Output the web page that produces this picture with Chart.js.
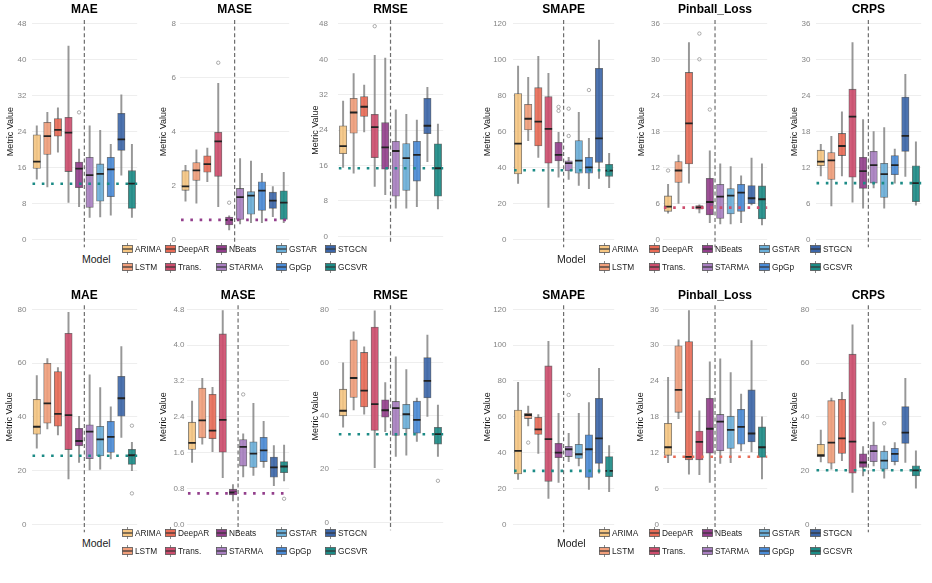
<!DOCTYPE html>
<html>
<head>
<meta charset="utf-8">
<script src="https://cdn.jsdelivr.net/npm/chart.js@4.4.0/dist/chart.umd.min.js"></script>
<style>
  html, body { margin: 0; padding: 0; background: #fff; }
  #page { position: relative; width: 932px; height: 583px; overflow: hidden;
          font-family: "Liberation Sans", Arial, sans-serif; }
  #page canvas { position: absolute; }
  .lg-title { position: absolute; font-size: 10.5px; color: #222; line-height: 12px; }
  .lg-item { position: absolute; font-size: 8.3px; color: #222; line-height: 10px; white-space: nowrap; }
  .lg-item svg { position: absolute; left: -13px; top: -1px; }
</style>
</head>
<body>
<div id="page"></div>
<script>
// Models and colours
const MODELS = ['ARIMA', 'LSTM', 'DeepAR', 'Trans.', 'NBeats', 'STARMA', 'GSTAR', 'GpGp', 'STGCN', 'GCSVR'];
const COLORS = ['#F6C683', '#F19F7B', '#E96C57', '#CD4D6D', '#933F8C', '#A97FC1', '#6BAFD9', '#4A8BD6', '#3C66A9', '#1C8B86'];
const METRICS = ['MAE', 'MASE', 'RMSE', 'SMAPE', 'Pinball_Loss', 'CRPS'];
const SPLIT_AFTER = 4; // dashed line between NBeats and STARMA

// each row: [whisker low, Q1, median, Q3, whisker high] -- top figure
const MAE_1 = [[13.4, 15.8, 17.3, 23.3, 25.3], [11.7, 18.9, 23.0, 26.1, 28.3], [19.4, 23.0, 24.4, 26.9, 29.3],
  [8.2, 15.1, 23.8, 27.2, 43.1], [7.3, 11.5, 15.75, 17.2, 20.1], [4.9, 7.1, 14.3, 18.3, 25.3],
  [5.0, 8.5, 14.6, 16.8, 24.3], [5.4, 9.5, 15.6, 18.3, 21.2], [14.3, 19.8, 22.3, 28.1, 32.2], [4.9, 6.9, 12.4, 15.3, 21.2]];
const MASE_1 = [[1.42, 1.82, 1.97, 2.55, 2.75], [1.34, 2.19, 2.56, 2.85, 3.32], [2.14, 2.49, 2.79, 3.10, 3.39],
  [1.21, 2.34, 3.64, 3.98, 5.80], [0.35, 0.53, 0.72, 0.83, 0.87], [0.57, 0.74, 1.57, 1.89, 3.0],
  [0.62, 0.93, 1.62, 1.77, 2.91], [0.62, 1.07, 1.81, 2.14, 2.45], [0.84, 1.15, 1.44, 1.75, 1.96], [0.62, 0.74, 1.36, 1.80, 2.49]];
const RMSE_1 = [[15.6, 18.7, 20.4, 25.0, 30.6], [14.3, 23.3, 28.0, 31.2, 36.8], [23.6, 27.1, 29.3, 31.6, 34.2],
  [11.3, 17.8, 24.7, 27.6, 40.9], [9.4, 15.2, 20.1, 25.7, 40.3], [6.4, 9.1, 19.3, 21.5, 28.6],
  [6.4, 10.4, 17.7, 21.0, 27.6], [6.7, 12.5, 18.4, 21.5, 26.3], [16.9, 23.2, 25.0, 31.2, 33.7], [6.2, 9.1, 15.4, 20.9, 25.4]];
const SMAPE_1 = [[31.2, 36.4, 53.3, 81.2, 96.6], [55.0, 60.9, 67.2, 75.2, 90.3], [45.7, 52.0, 65.6, 84.5, 102],
  [17.8, 42.4, 61.5, 79.5, 92.5], [34.6, 43.7, 47.0, 54.1, 59.6], [33.4, 38.1, 42.5, 43.8, 45.7],
  [30.1, 36.8, 43.8, 55.0, 70.8], [28.2, 36.8, 40.1, 45.7, 56.3], [34.0, 42.9, 56.3, 95.3, 111], [28.8, 35.1, 38.3, 41.8, 47.9]];
const PINBALL_1 = [[4.35, 4.68, 5.46, 7.25, 9.2], [6.0, 9.5, 11.5, 13.0, 14.1], [9.4, 12.6, 19.4, 27.9, 32.9],
  [4.4, 5.02, 5.35, 5.63, 5.75], [2.79, 4.07, 6.24, 10.2, 14.8], [2.56, 3.5, 7.13, 9.2, 12.6],
  [2.56, 4.24, 7.3, 8.47, 12.15], [2.79, 4.68, 7.8, 9.2, 10.6], [5.74, 5.96, 6.86, 9.0, 13.6], [2.4, 3.4, 6.7, 8.92, 12.6]];
const CRPS_1 = [[10.6, 12.3, 13.0, 14.9, 15.9], [5.6, 10.0, 13.2, 14.5, 17.2], [10.6, 14.0, 15.6, 17.7, 21.3],
  [6.2, 10.4, 20.5, 25.1, 32.9], [5.2, 8.5, 11.4, 13.7, 20.0], [8.6, 9.4, 12.4, 14.7, 18.0],
  [5.2, 7.0, 10.9, 12.7, 18.7], [9.4, 10.8, 12.4, 14.0, 15.1], [10.5, 14.7, 17.3, 23.8, 27.6], [5.7, 6.3, 9.4, 12.3, 16.3]];

// bottom figure
const MAE_2 = [[28.3, 33.5, 36.3, 46.5, 55.3], [35.5, 37.6, 45.0, 59.9, 61.7], [33.3, 36.5, 41.1, 56.8, 58.3],
  [16.9, 27.8, 40.6, 71.1, 78.9], [23.0, 29.2, 31.0, 35.7, 40.2], [20.2, 24.4, 34.5, 37.0, 55.6],
  [20.5, 25.4, 31.6, 36.5, 50.9], [24.3, 26.7, 32.5, 38.3, 43.7], [32.3, 40.2, 46.9, 55.1, 66.1], [20.0, 22.3, 25.7, 27.9, 30.5]];
const MASE_2 = [[1.38, 1.67, 1.82, 2.28, 2.75], [1.79, 1.93, 2.32, 3.04, 3.26], [1.62, 1.91, 2.09, 2.90, 3.06],
  [1.04, 1.61, 2.33, 4.25, 4.77], [0.52, 0.655, 0.71, 0.78, 0.885], [1.06, 1.30, 1.73, 1.89, 2.02],
  [1.09, 1.27, 1.58, 1.84, 2.70], [1.27, 1.40, 1.65, 1.94, 2.30], [0.86, 1.05, 1.27, 1.50, 1.76], [0.97, 1.15, 1.29, 1.40, 1.77]];
const RMSE_2 = [[35.7, 40.0, 41.9, 50.0, 59.9], [42.2, 46.9, 54.2, 68.5, 71.5], [40.6, 43.3, 49.5, 63.8, 65.9],
  [20.5, 34.5, 44.4, 73.3, 79.4], [34.1, 39.5, 42.1, 46.0, 52.5], [24.8, 32.6, 42.9, 45.4, 62.2],
  [25.2, 35.1, 40.6, 44.3, 57.4], [30.4, 33.5, 38.5, 45.5, 46.7], [39.8, 46.7, 53.1, 61.9, 70.3], [24.8, 29.4, 33.1, 35.7, 44.0]];
const SMAPE_2 = [[25.1, 28.1, 41.0, 63.8, 79.3], [54.9, 59.0, 61.0, 62.0, 66.0], [39.6, 50.2, 53.0, 59.7, 61.2],
  [14.5, 24.0, 47.5, 88.4, 102.1], [23.4, 37.2, 40.0, 45.2, 62.0], [35.0, 37.8, 41.9, 43.5, 50.8],
  [32.6, 36.8, 39.1, 44.7, 62.0], [19.5, 26.2, 41.9, 49.9, 67.9], [28.5, 34.0, 48.0, 70.3, 87.1], [18.2, 26.6, 29.8, 37.8, 43.9]];
const PINBALL_2 = [[10.3, 11.55, 12.9, 16.9, 24.6], [17.7, 18.75, 22.5, 29.9, 30.9], [8.4, 10.8, 11.3, 30.6, 35.8],
  [8.3, 10.8, 13.8, 15.6, 19.0], [7.0, 11.9, 16.0, 21.1, 27.2], [10.2, 12.3, 17.2, 18.4, 27.7],
  [10.3, 12.7, 15.8, 18.1, 25.4], [12.3, 13.4, 16.3, 19.25, 21.8], [12.1, 13.8, 15.2, 22.5, 30.75], [7.6, 11.2, 12.9, 16.3, 18.0]];
const CRPS_2 = [[23.2, 25.2, 25.7, 29.8, 35.1], [20.5, 22.7, 30.4, 46.0, 47.0], [23.7, 26.4, 32.0, 46.5, 49.1],
  [11.9, 19.0, 30.8, 63.3, 74.2], [18.0, 21.2, 23.0, 26.2, 28.9], [21.7, 23.3, 27.2, 29.5, 38.0],
  [17.2, 20.5, 23.7, 27.2, 29.2], [22.1, 23.3, 26.2, 28.3, 30.4], [23.0, 30.1, 34.1, 43.8, 54.3], [13.4, 18.0, 20.1, 21.8, 27.3]];

// outliers: [model index, value]
const MAE_1_OUT = [[4, 28.3]];
const MASE_1_OUT = [[3, 6.56], [4, 1.36]];
const RMSE_1_OUT = [[3, 47.5]];
const SMAPE_1_OUT = [[4, 73.8], [4, 71.6], [5, 72.8], [5, 57.6], [7, 83.2]];
const PINBALL_1_OUT = [[0, 11.5], [3, 34.4], [3, 30.1], [4, 21.7]];
const CRPS_1_OUT = [];
const MAE_2_OUT = [[9, 36.7], [9, 11.5]];
const MASE_2_OUT = [[5, 2.90], [9, 0.57]];
const RMSE_2_OUT = [[9, 15.6]];
const SMAPE_2_OUT = [[1, 45.6], [5, 72.2]];
const PINBALL_2_OUT = [];
const CRPS_2_OUT = [[6, 37.6]];

// dotted reference line (best model median) per panel
const REF_1 = [12.4, 0.72, 15.4, 38.5, 5.3, 9.4];
const REF_MODEL_1 = [9, 4, 9, 9, 3, 9];
const REF_2 = [25.5, 0.69, 33.1, 29.8, 11.3, 20.1];
const REF_MODEL_2 = [9, 4, 9, 9, 2, 9];

// y axis ticks
const Y_MAX_1 = [48, 8, 48, 120, 36, 36];
const Y_STEP_1 = [8, 2, 8, 20, 6, 6];
const Y_MAX_2 = [80, 4.8, 80, 120, 36, 80];
const Y_STEP_2 = [20, 0.8, 20, 20, 6, 20];

// layout (pixels)
const PLOT_TOP = [24, 309.3];
const PLOT_BOTTOM = [239.3, 524.3];
const FIRST_X = [[37, 185.7, 343.3, 518.3, 668.3, 821], [37, 192.3, 343.3, 518.3, 668.3, 821]];
const STEP_X = [[11.0, 11.33, 10.93, 10.56, 10.89, 10.97], [11.0, 10.7, 10.93, 10.56, 10.89, 10.97]];
const LABEL_RIGHT = [[26.5, 176, 328, 506.5, 660, 810.5], [26.5, 184.5, 329, 506.5, 659, 809.5]];
const AXIS_TITLE_X = [[10.5, 163.7, 316, 488.3, 641.7, 794.5], [10.3, 164.2, 316, 488.3, 640.7, 794.5]];

const FONT = '"Liberation Sans", Arial, sans-serif';
const page = document.getElementById('page');

const extrasPlugin = {
    id: 'panelExtras',
    afterDatasetsDraw(chart, args, opts) {
        const { ctx, chartArea } = chart;
        const xs = chart.scales.x, ys = chart.scales.y;
        ctx.save();
        // dashed separator between model groups
        const xSplit = (xs.getPixelForValue(SPLIT_AFTER) + xs.getPixelForValue(SPLIT_AFTER + 1)) / 2;
        ctx.strokeStyle = 'rgba(85,85,85,0.85)';
        ctx.lineWidth = 1.2;
        ctx.setLineDash([4, 2.6]);
        ctx.beginPath();
        ctx.moveTo(xSplit, chartArea.top - 4);
        ctx.lineTo(xSplit, chartArea.bottom + 8);
        ctx.stroke();
        // dotted reference line
        const yRef = ys.getPixelForValue(opts.ref);
        ctx.strokeStyle = opts.color;
        ctx.lineWidth = 2.6;
        ctx.setLineDash([2.6, 6.7]);
        ctx.beginPath();
        ctx.moveTo(chartArea.left + 1, yRef);
        ctx.lineTo(chartArea.right, yRef);
        ctx.stroke();
        ctx.restore();
    }
};

function buildPanel(row, col, rows, outs, ref, refModel, yMax, yStep) {
    const plotTop = PLOT_TOP[row], plotBottom = PLOT_BOTTOM[row];
    const step = STEP_X[row][col], first = FIRST_X[row][col];
    const plotLeft = first - step / 2;
    const plotRight = first + step * (MODELS.length - 0.5);
    const canvasLeft = Math.floor(AXIS_TITLE_X[row][col] - 6.4);
    const canvasTop = Math.floor(plotTop - 24);
    const w = Math.ceil(plotRight - canvasLeft) + 1;
    const h = Math.ceil(plotBottom + 11 - canvasTop);
    const axisW = plotLeft - canvasLeft;
    const padTop = (plotTop - 14) - canvasTop - 7.2;
    const padBottom = (plotTop - canvasTop) - padTop - 14.4;

    const canvas = document.createElement('canvas');
    canvas.width = w;
    canvas.height = h;
    canvas.style.left = canvasLeft + 'px';
    canvas.style.top = canvasTop + 'px';
    canvas.style.width = w + 'px';
    canvas.style.height = h + 'px';
    page.appendChild(canvas);

    const decimals = yStep < 1 && yMax < 5 ? 1 : 0;

    new Chart(canvas, {
        type: 'bar',
        data: {
            labels: MODELS,
            datasets: [
                {
                    type: 'bar', order: 4, grouped: false,
                    data: rows.map(r => [r[0], r[4]]),
                    backgroundColor: 'rgba(125,125,125,0.8)',
                    borderWidth: 0, barThickness: 1.3
                },
                {
                    type: 'bar', order: 3, grouped: false,
                    data: rows.map(r => [r[1], r[3]]),
                    backgroundColor: COLORS.map(c => c + 'E6'),
                    borderColor: 'rgba(70,70,70,0.75)',
                    borderWidth: 0.8, borderSkipped: false, barThickness: 7.4
                },
                {
                    type: 'line', order: 2, showLine: false,
                    data: rows.map(r => r[2]),
                    pointStyle: 'line', pointRadius: 3.7, pointBorderWidth: 1.8,
                    pointBorderColor: '#222', pointBackgroundColor: '#222'
                },
                {
                    type: 'line', order: 1, showLine: false,
                    data: outs.map(o => ({ x: MODELS[o[0]], y: o[1] })),
                    pointStyle: 'circle', pointRadius: 1.7, pointBorderWidth: 0.7,
                    pointBorderColor: '#8a8a8a', pointBackgroundColor: 'rgba(0,0,0,0)'
                }
            ]
        },
        options: {
            responsive: false,
            animation: false,
            devicePixelRatio: 1,
            events: [],
            layout: { padding: { left: 0, top: 0, right: w - (plotRight - canvasLeft), bottom: h - (plotBottom - canvasTop) } },
            plugins: {
                legend: { display: false },
                tooltip: { enabled: false },
                title: {
                    display: true, text: METRICS[col], fullSize: false, color: '#000',
                    font: { family: FONT, size: 12, weight: 'bold', lineHeight: 1.2 },
                    padding: { top: padTop, bottom: padBottom }
                },
                panelExtras: { ref: ref, color: COLORS[refModel] }
            },
            scales: {
                x: { type: 'category', display: false, offset: true },
                y: {
                    min: 0, max: yMax,
                    ticks: {
                        stepSize: yStep,
                        padding: plotLeft - LABEL_RIGHT[row][col],
                        color: '#858585',
                        font: { family: FONT, size: 8 },
                        callback: v => v.toFixed(decimals)
                    },
                    grid: { color: '#ececec', lineWidth: 0.9, drawTicks: false },
                    border: { display: false },
                    title: {
                        display: true, text: 'Metric Value', color: '#1a1a1a',
                        font: { family: FONT, size: 9, lineHeight: 1.2 },
                        padding: { top: 1, bottom: 0 }
                    },
                    afterFit: s => { s.width = axisW; }
                }
            }
        },
        plugins: [extrasPlugin]
    });
}

const TOP = [MAE_1, MASE_1, RMSE_1, SMAPE_1, PINBALL_1, CRPS_1];
const TOP_OUT = [MAE_1_OUT, MASE_1_OUT, RMSE_1_OUT, SMAPE_1_OUT, PINBALL_1_OUT, CRPS_1_OUT];
const BOT = [MAE_2, MASE_2, RMSE_2, SMAPE_2, PINBALL_2, CRPS_2];
const BOT_OUT = [MAE_2_OUT, MASE_2_OUT, RMSE_2_OUT, SMAPE_2_OUT, PINBALL_2_OUT, CRPS_2_OUT];

for (let c = 0; c < 6; c++) {
    buildPanel(0, c, TOP[c], TOP_OUT[c], REF_1[c], REF_MODEL_1[c], Y_MAX_1[c], Y_STEP_1[c]);
    buildPanel(1, c, BOT[c], BOT_OUT[c], REF_2[c], REF_MODEL_2[c], Y_MAX_2[c], Y_STEP_2[c]);
}

// legends (ggplot style, 2 rows x 5 columns)
const LEGEND_TEXT_X = [[135, 178, 229, 289, 338], [612, 662, 715, 772, 823]];
const LEGEND_TITLE_X = [82, 557];
const LEGEND_ROW_Y = [[244, 262], [528, 546]];
const LEGEND_TITLE_Y = [253, 537];

function keyIcon(color) {
    return '<svg width="11" height="12" viewBox="0 0 11 12">' +
        '<line x1="5.5" y1="0" x2="5.5" y2="12" stroke="#8a8a8a" stroke-width="1"/>' +
        '<rect x="0.5" y="2.5" width="10" height="7" fill="' + color + '" stroke="#555" stroke-width="0.8"/>' +
        '<line x1="0.5" y1="6" x2="10.5" y2="6" stroke="#333" stroke-width="1.2"/></svg>';
}

for (let r = 0; r < 2; r++) {
    for (let g = 0; g < 2; g++) {
        const t = document.createElement('div');
        t.className = 'lg-title';
        t.textContent = 'Model';
        t.style.left = LEGEND_TITLE_X[g] + 'px';
        t.style.top = LEGEND_TITLE_Y[r] + 'px';
        page.appendChild(t);
        for (let i = 0; i < MODELS.length; i++) {
            const colIdx = Math.floor(i / 2), rowIdx = i % 2;
            const d = document.createElement('div');
            d.className = 'lg-item';
            d.style.left = LEGEND_TEXT_X[g][colIdx] + 'px';
            d.style.top = LEGEND_ROW_Y[r][rowIdx] + 'px';
            d.innerHTML = keyIcon(COLORS[i]) + MODELS[i];
            page.appendChild(d);
        }
    }
}
</script>
</body>
</html>
